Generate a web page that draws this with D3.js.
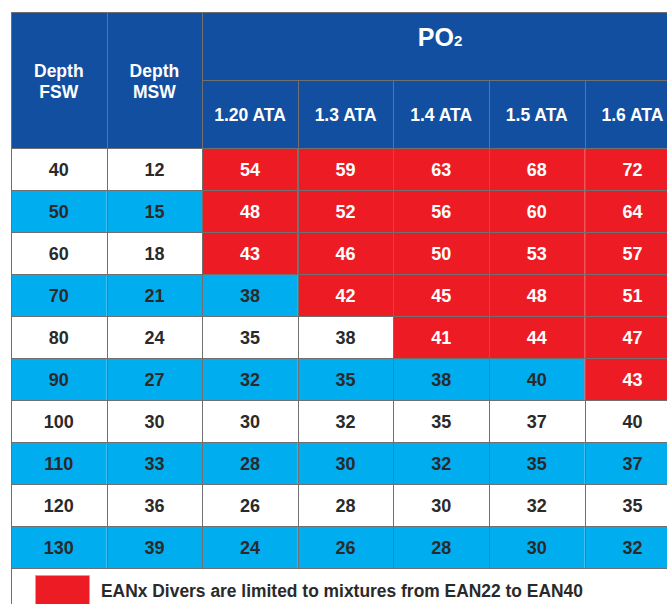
<!DOCTYPE html>
<html><head><meta charset="utf-8">
<script src="https://cdn.jsdelivr.net/npm/d3@7"></script>
<style>body{margin:0;background:#fff}svg{display:block}</style>
</head><body><svg id="c" width="667" height="604"></svg>
<script>
const depthFSW = [40,50,60,70,80,90,100,110,120,130];
const depthMSW = [12,15,18,21,24,27,30,33,36,39];
const po2Labels = ["1.20 ATA","1.3 ATA","1.4 ATA","1.5 ATA","1.6 ATA"];
const ata120 = [54,48,43,38,35,32,30,28,26,24];
const ata13  = [59,52,46,42,38,35,32,30,28,26];
const ata14  = [63,56,50,45,41,38,35,32,30,28];
const ata15  = [68,60,53,48,44,40,37,35,32,30];
const ata16  = [72,64,57,51,47,43,40,37,35,32];
const series = [ata120, ata13, ata14, ata15, ata16];
const limitMax = 40;
const legendText = "EANx Divers are limited to mixtures from EAN22 to EAN40";

const BLUE="#134fa1", CYAN="#00adef", RED="#ed1c24", WHITE="#ffffff", LINE="#707070", DARK="#2a2a2a";
const FONT="'Liberation Sans', Arial, sans-serif";

const svg = d3.select("#c");
const colKeys = ["fsw","msw"].concat(po2Labels);
const x = d3.scaleBand().domain(colKeys).range([11, 11 + 7*95.6]);
const y = d3.scaleBand().domain(depthFSW).range([148, 568]);
const hTop = 12, hMid = 80, hBot = 148;

svg.append("rect").attr("x",x("fsw")).attr("y",hTop).attr("width",x.step()*7).attr("height",hBot-hTop).attr("fill",BLUE);

const rows = depthFSW.map((d,i)=>({fsw:d, msw:depthMSW[i], vals:series.map(s=>s[i]), i}));
const cells = [];
rows.forEach(r=>{
  const base = r.i%2===0 ? WHITE : CYAN;
  cells.push({col:"fsw", row:r.fsw, text:r.fsw, fill:base, color:DARK});
  cells.push({col:"msw", row:r.fsw, text:r.msw, fill:base, color:DARK});
  r.vals.forEach((v,j)=>{
    const red = v > limitMax;
    cells.push({col:po2Labels[j], row:r.fsw, text:v, fill:red?RED:base, color:red?WHITE:DARK});
  });
});
const g = svg.append("g");
g.selectAll("rect.cell").data(cells).join("rect").attr("class","cell")
  .attr("x",d=>x(d.col)).attr("y",d=>y(d.row)).attr("width",x.bandwidth()).attr("height",y.bandwidth())
  .attr("fill",d=>d.fill);
g.selectAll("text.cell").data(cells).join("text").attr("class","cell")
  .attr("x",d=>x(d.col)+x.bandwidth()/2).attr("y",d=>y(d.row)+y.bandwidth()/2+6.5)
  .attr("text-anchor","middle").attr("font-family",FONT).attr("font-weight","bold").attr("font-size",18)
  .attr("fill",d=>d.color).text(d=>d.text);

const lines = svg.append("g").attr("stroke",LINE).attr("stroke-width",1).attr("fill","none");
depthFSW.forEach(d=>{
  lines.append("line").attr("x1",x("fsw")).attr("x2",667).attr("y1",y(d)+0.5).attr("y2",y(d)+0.5);
});
lines.append("line").attr("x1",x("fsw")).attr("x2",667).attr("y1",568.5).attr("y2",568.5);
lines.append("line").attr("x1",x("fsw")).attr("x2",667).attr("y1",hTop+0.5).attr("y2",hTop+0.5);
lines.append("line").attr("x1",x(po2Labels[0])).attr("x2",667).attr("y1",hMid+0.5).attr("y2",hMid+0.5);
colKeys.forEach((k,i)=>{
  const xx = Math.round(x(k))+0.5;
  const top = (i>=3) ? hMid : hTop;
  lines.append("line").attr("x1",xx).attr("x2",xx).attr("y1",top).attr("y2",568);
});
lines.append("line").attr("x1",11.5).attr("x2",11.5).attr("y1",hTop).attr("y2",604);

const ht = svg.append("g").attr("font-family",FONT).attr("font-weight","bold").attr("fill",WHITE).attr("text-anchor","middle");
[["fsw",["Depth","FSW"]],["msw",["Depth","MSW"]]].forEach(([k,ls])=>{
  ls.forEach((t,i)=>ht.append("text").attr("x",x(k)+x.bandwidth()/2).attr("y",77+i*21).attr("font-size",17.5).text(t));
});
const poX = 440;
const po = ht.append("text").attr("x",poX).attr("y",46).attr("font-size",25);
po.append("tspan").text("PO");
po.append("tspan").attr("font-size",15).text("2");
po2Labels.forEach(l=>{
  ht.append("text").attr("x",x(l)+x.bandwidth()/2).attr("y",121).attr("font-size",17.5).text(l);
});

svg.append("rect").attr("x",35.5).attr("y",575.5).attr("width",54).attr("height",29).attr("fill",RED).attr("stroke","#b0b0b0").attr("stroke-width",0.6);
svg.append("text").attr("x",101).attr("y",597).attr("font-family","'Liberation Sans Narrow', 'Liberation Sans', Arial, sans-serif")
  .attr("font-weight","bold").attr("font-size",17.5).attr("fill",DARK)
  .attr("textLength",482).attr("lengthAdjust","spacingAndGlyphs").text(legendText);
</script></body></html>
